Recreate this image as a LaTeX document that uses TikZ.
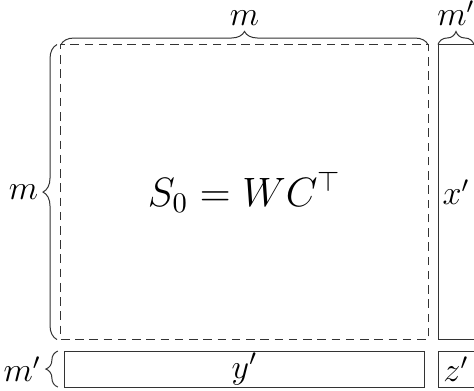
\documentclass[tikz,border=0pt]{standalone}
\usepackage{amsmath,amssymb}
\usetikzlibrary{decorations.pathreplacing}

\begin{document}
\begin{tikzpicture}[
  blockbox/.style={draw=black!80, line width=0.35pt, inner sep=0pt, outer sep=0pt, font=\large},
  dashbox/.style={blockbox, dash pattern=on 3pt off 2pt},
  curly/.style={decorate, draw=black!80, line width=0.35pt, decoration={brace, amplitude=#1}},
  curly/.default=4.6pt,
  dimlabel/.style={font=\large, inner sep=1pt}
]
\useasboundingbox (0,0) rectangle (5.849,4.813);

\node[dashbox, minimum width=4.529cm, minimum height=3.64cm] (gram) at (3.017,2.443) {\Large $S_0 = WC^\top$};
\node[blockbox, minimum width=0.444cm, minimum height=3.64cm] (xcol) at (5.627,2.443) {$x'$};
\node[blockbox, minimum width=4.43cm, minimum height=0.444cm] (yrow) at (3.017,0.259) {$y'$};
\node[blockbox, minimum width=0.444cm, minimum height=0.444cm] (zcell) at (5.627,0.259) {$z'$};

% braces with their sizes
\draw[curly] (gram.north west) -- node[dimlabel, above=5.5pt] (mtop) {$m$} (gram.north east);
\draw[curly] (xcol.north west) -- node[dimlabel, above=5.5pt] (mptop) {$m'$} (xcol.north east);
\draw[curly=4.9pt, decoration={raise=1.4pt}] (gram.south west) -- node[dimlabel, left=6.8pt] (mleft) {$m$} (gram.north west);
\draw[curly=4.2pt, decoration={raise=2.5pt}] (yrow.south west) -- node[dimlabel, left=7.3pt] (mpleft) {$m'$} (yrow.north west);
\end{tikzpicture}
\end{document}
